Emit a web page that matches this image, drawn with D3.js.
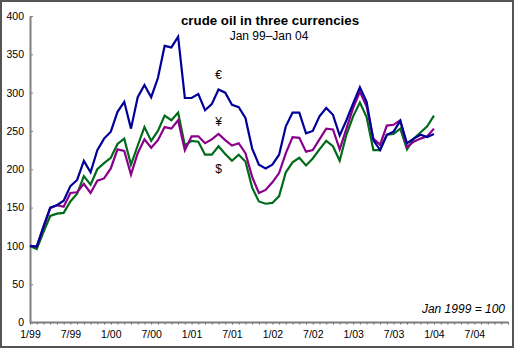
<!DOCTYPE html>
<html><head><meta charset="utf-8">
<script src="https://cdn.jsdelivr.net/npm/d3@7"></script>
<style>
html,body{margin:0;padding:0;background:#fff;}
svg{display:block;font-family:"Liberation Sans",Arial,Helvetica,sans-serif;}
</style></head>
<body>
<svg id="c" width="520" height="349"></svg>
<script>
// Monthly index values, Jan 1999 (month 0) .. Jan 2004 (month 60); Jan 1999 = 100
const euro = [100,99,125,150,153,159,178,186,211,196,225,240,249,275,288,253,294,310,294,319,361,359,373,293,293,298,277,285,304,300,284,281,267,227,206,201,206,219,256,274,274,247,250,269,280,271,244,264,286,307,288,238,225,245,249,263,234,240,245,242,246];
const yen  = [100,99,124,149,153,151,169,170,181,169,185,188,201,226,224,193,221,239,228,238,255,253,264,225,243,243,234,239,246,238,231,234,221,190,169,173,183,195,221,242,241,223,225,239,253,252,226,253,280,301,282,240,232,257,258,264,229,236,240,243,253];
const dollar = [100,96,118,139,142,143,158,168,191,180,200,208,215,233,240,206,231,255,237,250,270,264,274,231,237,236,219,219,230,220,211,219,210,176,158,155,156,165,196,209,215,205,214,226,237,230,211,245,269,287,268,225,225,245,246,253,226,240,248,256,270];
const seriesNames = ["euro","yen","dollar"];
const seriesColors = ["#000099","#8B008B","#006B1A"];
const seriesSymbols = ["€","¥","$"];
const symbolMonth = [28,28,28];
const symbolValue = [323,262,200];
const xTickLabels = ["1/99","7/99","1/00","7/00","1/01","7/01","1/02","7/02","1/03","7/03","1/04","7/04"];
const yTicks = [0,50,100,150,200,250,300,350,400];
const title = "crude oil in three currencies";
const subtitle = "Jan 99–Jan 04";
const note = "Jan 1999 = 100";

const svg = d3.select("#c");
const x = d3.scaleLinear().domain([0,71]).range([30,508]);
const y = d3.scaleLinear().domain([0,400]).range([322.5,16]);

// frame
svg.append("rect").attr("x",1).attr("y",1).attr("width",512).attr("height",346)
  .attr("fill","none").attr("stroke","#555").attr("stroke-width",2);

// y axis
const yAx = svg.append("g").attr("transform",`translate(${x(0)},0)`)
  .call(d3.axisLeft(y).tickValues(yTicks).tickSizeInner(-3).tickSizeOuter(0).tickPadding(6));
yAx.select(".domain").attr("stroke","#808080").attr("stroke-width",2);
yAx.selectAll(".tick line").attr("stroke","#808080").attr("stroke-width",1);
yAx.selectAll(".tick text").attr("font-size",10.5).attr("fill","#000")
  .attr("font-family","Liberation Sans, Arial, sans-serif");

// x axis: minor monthly ticks
const months = d3.range(0,72);
const xMin = svg.append("g").attr("transform",`translate(0,${y(0)})`)
  .call(d3.axisBottom(x).tickValues(months).tickSize(2).tickFormat(""));
xMin.select(".domain").attr("stroke","#808080").attr("stroke-width",2)
  .attr("d",`M${x(0)},0H${x(71.1)}`);
xMin.selectAll(".tick line").attr("stroke","#666").attr("stroke-width",1);
// labels every 6 months
const labelMonths = xTickLabels.map((_,i)=>i*6);
const xLab = svg.append("g").attr("transform",`translate(0,${y(0)})`)
  .call(d3.axisBottom(x).tickValues(labelMonths).tickSize(0).tickPadding(8)
    .tickFormat((d,i)=>xTickLabels[i]));
xLab.select(".domain").remove();
xLab.selectAll(".tick text").attr("font-size",10.5).attr("fill","#000")
  .attr("font-family","Liberation Sans, Arial, sans-serif");

// lines
const data = [euro,yen,dollar];
const line = d3.line().x((d,i)=>x(i)).y(d=>y(d));
// draw order: dollar, yen, euro (euro on top)
[2,1,0].forEach(k=>{
  svg.append("path").datum(data[k]).attr("d",line)
    .attr("fill","none").attr("stroke",seriesColors[k]).attr("stroke-width",2.2)
    .attr("stroke-linejoin","miter");
});

// symbols
seriesSymbols.forEach((s,k)=>{
  svg.append("text").attr("x",x(symbolMonth[k])).attr("y",y(symbolValue[k]))
    .attr("text-anchor","middle").attr("dominant-baseline","central")
    .attr("font-size",12).attr("fill","#000").text(s);
});

// titles
svg.append("text").attr("x",270).attr("y",25).attr("text-anchor","middle")
  .attr("font-size",13.3).attr("font-weight","bold").attr("fill","#000").text(title);
svg.append("text").attr("x",269).attr("y",40).attr("text-anchor","middle")
  .attr("font-size",12).attr("fill","#000").text(subtitle);
svg.append("text").attr("x",505).attr("y",313).attr("text-anchor","end")
  .attr("font-size",12).attr("font-style","italic").attr("fill","#000").text(note);
</script>
</body></html>
